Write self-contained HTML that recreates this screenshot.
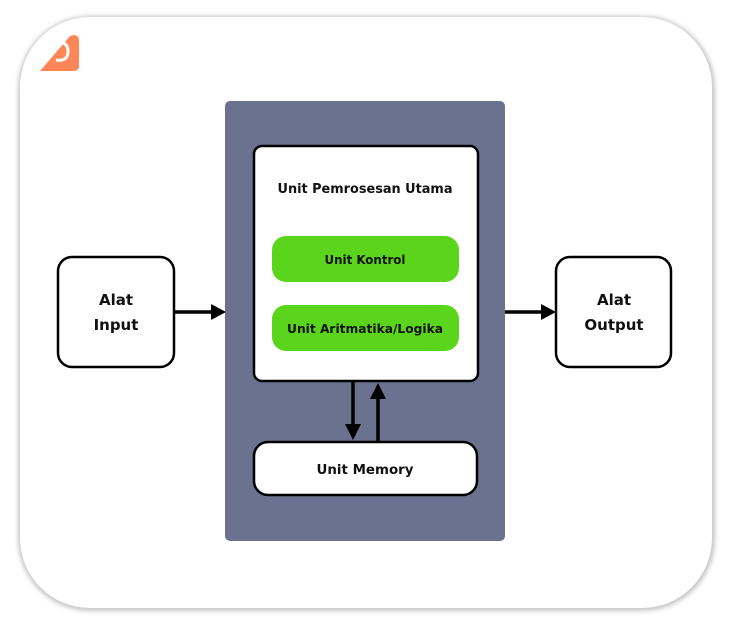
<!DOCTYPE html>
<html><head><style>
html,body{margin:0;padding:0;background:#fff;}
svg{display:block;}
text{font-family:"DejaVu Sans","Liberation Sans",sans-serif;font-weight:bold;fill:#111;}
</style></head><body>
<svg width="736" height="636" viewBox="0 0 736 636" xmlns="http://www.w3.org/2000/svg">
<defs>
<filter id="sh" x="-5%" y="-5%" width="110%" height="110%"><feGaussianBlur stdDeviation="2"/></filter>
</defs>
<rect x="18" y="16" width="697" height="595" rx="72" fill="#c8c8c8" filter="url(#sh)"/>
<rect x="20" y="17" width="692" height="591" rx="70" fill="#fff"/>
<path d="M40,71 L70,36 Q78,33 79,40 L79,66 Q79,71 73,71 Z" fill="#ff8659"/>
<path d="M56,60 Q68,62 68,51 Q68,44 61,42" stroke="#fff" stroke-width="3" fill="none"/>
<rect x="225" y="101" width="280" height="440" rx="5" fill="#6b7290"/>
<rect x="254" y="146" width="224" height="235" rx="8" fill="#fff" stroke="#000" stroke-width="2.5"/>
<text x="365" y="193" font-size="13.5" text-anchor="middle" textLength="175" lengthAdjust="spacingAndGlyphs">Unit Pemrosesan Utama</text>
<rect x="272" y="236" width="187" height="46" rx="14" fill="#5bd51b"/>
<text x="365" y="264" font-size="12.5" text-anchor="middle" textLength="81" lengthAdjust="spacingAndGlyphs">Unit Kontrol</text>
<rect x="272" y="305" width="187" height="46" rx="14" fill="#5bd51b"/>
<text x="365" y="333" font-size="12.5" text-anchor="middle" textLength="156" lengthAdjust="spacingAndGlyphs">Unit Aritmatika/Logika</text>
<rect x="254" y="442" width="223" height="53" rx="14" fill="#fff" stroke="#000" stroke-width="2.5"/>
<text x="365" y="474" font-size="13.5" text-anchor="middle" textLength="97" lengthAdjust="spacingAndGlyphs">Unit Memory</text>
<rect x="58" y="257" width="116" height="110" rx="14" fill="#fff" stroke="#000" stroke-width="2.5"/>
<text x="116" y="305" font-size="15" text-anchor="middle">Alat</text>
<text x="116" y="330" font-size="15" text-anchor="middle">Input</text>
<rect x="556" y="257" width="115" height="110" rx="14" fill="#fff" stroke="#000" stroke-width="2.5"/>
<text x="614" y="305" font-size="15" text-anchor="middle">Alat</text>
<text x="614" y="330" font-size="15" text-anchor="middle">Output</text>
<line x1="174" y1="312" x2="220" y2="312" stroke="#000" stroke-width="3.5"/>
<path d="M211,304 L226,312 L211,320 Z" fill="#000"/>
<line x1="505" y1="312" x2="550" y2="312" stroke="#000" stroke-width="3.5"/>
<path d="M541,304 L556,312 L541,320 Z" fill="#000"/>
<line x1="353" y1="381" x2="353" y2="428" stroke="#000" stroke-width="3.5"/>
<path d="M345,424 L353,440 L361,424 Z" fill="#000"/>
<line x1="378" y1="441" x2="378" y2="395" stroke="#000" stroke-width="3.5"/>
<path d="M370,399 L378,383 L386,399 Z" fill="#000"/>
</svg>
</body></html>
